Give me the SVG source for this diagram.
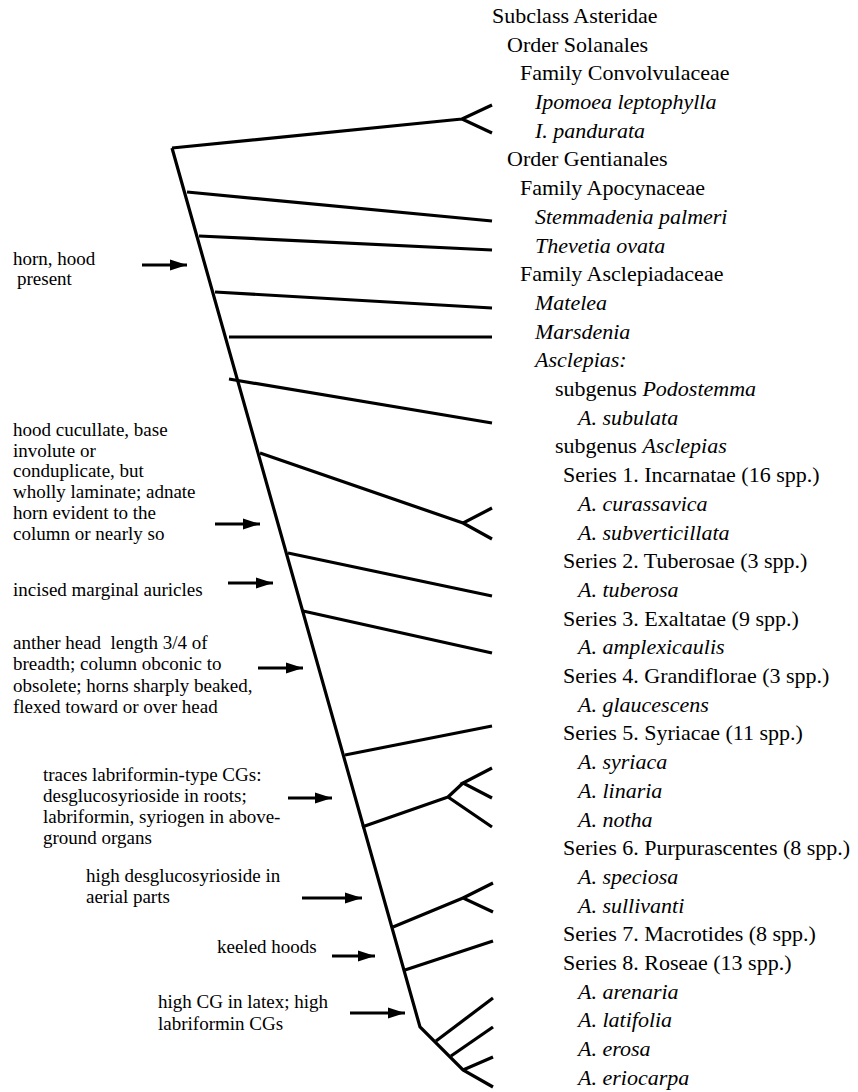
<svg xmlns="http://www.w3.org/2000/svg" width="858" height="1092" viewBox="0 0 858 1092">
<style>
.t{font-family:'Liberation Serif','Tinos','DejaVu Serif',serif;font-size:22px;fill:#000}
.n{font-family:'Liberation Serif','Tinos','DejaVu Serif',serif;font-size:19px;fill:#000}
.i{font-style:italic}
.ln{fill:none;stroke:#000;stroke-width:3.2;stroke-linejoin:miter;stroke-linecap:butt}
.ar{fill:none;stroke:#000;stroke-width:3}
</style>
<defs>
<marker id="ah" markerUnits="userSpaceOnUse" markerWidth="18" markerHeight="12" refX="17" refY="6" orient="auto">
<path d="M0,0.5 L17,6 L0,11.5 z" fill="#000"/>
</marker>
</defs>
<rect width="858" height="1092" fill="#fff"/>
<g id="connectors">
<path class="ln" d="M172,148 L420,1027 L463,1070 L493,1087"/>
<path class="ln" d="M172,148 L462,119 M492,105 L462,119 L492,133"/>
<path class="ln" d="M187,192 L492,221"/>
<path class="ln" d="M199,236 L492,250"/>
<path class="ln" d="M215,292 L492,308"/>
<path class="ln" d="M229,337 L492,337"/>
<path class="ln" d="M229,379 L492,423"/>
<path class="ln" d="M260,453 L463,523 M492,508 L463,523 L492,539"/>
<path class="ln" d="M288,553 L492,596"/>
<path class="ln" d="M303,611 L492,653"/>
<path class="ln" d="M345,755 L492,726"/>
<path class="ln" d="M362,827 L448,797 L492,827 M448,797 L463,783 M492,768 L463,783 L492,798"/>
<path class="ln" d="M393,927 L463,898 M493,883 L463,898 L493,912"/>
<path class="ln" d="M405,970 L493,941"/>
<path class="ln" d="M436,1041 L493,998"/>
<path class="ln" d="M451,1056 L493,1027"/>
<path class="ln" d="M463,1070 L493,1057"/>
<line class="ar" x1="142" y1="265" x2="187" y2="265" marker-end="url(#ah)"/>
<line class="ar" x1="215" y1="524" x2="260" y2="524" marker-end="url(#ah)"/>
<line class="ar" x1="228" y1="583" x2="273" y2="583" marker-end="url(#ah)"/>
<line class="ar" x1="258" y1="668" x2="303" y2="668" marker-end="url(#ah)"/>
<line class="ar" x1="288" y1="798" x2="332" y2="798" marker-end="url(#ah)"/>
<line class="ar" x1="302" y1="898" x2="362" y2="898" marker-end="url(#ah)"/>
<line class="ar" x1="332" y1="956" x2="375" y2="956" marker-end="url(#ah)"/>
<line class="ar" x1="350" y1="1013" x2="405" y2="1013" marker-end="url(#ah)"/>
</g>
<g id="taxa">
<text class="t" x="492" y="23">Subclass Asteridae</text>
<text class="t" x="507" y="52">Order Solanales</text>
<text class="t" x="520" y="80">Family Convolvulaceae</text>
<text class="t i" x="535" y="109">Ipomoea leptophylla</text>
<text class="t i" x="535" y="138">I. pandurata</text>
<text class="t" x="507" y="166">Order Gentianales</text>
<text class="t" x="520" y="195">Family Apocynaceae</text>
<text class="t i" x="535" y="224">Stemmadenia palmeri</text>
<text class="t i" x="535" y="253">Thevetia ovata</text>
<text class="t" x="520" y="281">Family Asclepiadaceae</text>
<text class="t i" x="535" y="310">Matelea</text>
<text class="t i" x="535" y="339">Marsdenia</text>
<text class="t i" x="535" y="367">Asclepias:</text>
<text class="t" x="555" y="396">subgenus <tspan class="i">Podostemma</tspan></text>
<text class="t i" x="578" y="425">A. subulata</text>
<text class="t" x="555" y="453">subgenus <tspan class="i">Asclepias</tspan></text>
<text class="t" x="563" y="482">Series 1. Incarnatae (16 spp.)</text>
<text class="t i" x="578" y="511">A. curassavica</text>
<text class="t i" x="578" y="540">A. subverticillata</text>
<text class="t" x="563" y="568">Series 2. Tuberosae (3 spp.)</text>
<text class="t i" x="578" y="597">A. tuberosa</text>
<text class="t" x="563" y="626">Series 3. Exaltatae (9 spp.)</text>
<text class="t i" x="578" y="654">A. amplexicaulis</text>
<text class="t" x="563" y="683">Series 4. Grandiflorae (3 spp.)</text>
<text class="t i" x="578" y="712">A. glaucescens</text>
<text class="t" x="563" y="740">Series 5. Syriacae (11 spp.)</text>
<text class="t i" x="578" y="769">A. syriaca</text>
<text class="t i" x="578" y="798">A. linaria</text>
<text class="t i" x="578" y="827">A. notha</text>
<text class="t" x="563" y="855">Series 6. Purpurascentes (8 spp.)</text>
<text class="t i" x="578" y="884">A. speciosa</text>
<text class="t i" x="578" y="913">A. sullivanti</text>
<text class="t" x="563" y="941">Series 7. Macrotides (8 spp.)</text>
<text class="t" x="563" y="970">Series 8. Roseae (13 spp.)</text>
<text class="t i" x="578" y="999">A. arenaria</text>
<text class="t i" x="578" y="1027">A. latifolia</text>
<text class="t i" x="578" y="1056">A. erosa</text>
<text class="t i" x="578" y="1085">A. eriocarpa</text>
</g>
<g id="note-horn">
<text class="n" x="13" y="265">horn, hood</text>
<text class="n" x="17" y="285">present</text>
</g>
<g id="note-hood">
<text class="n" x="13" y="436">hood cucullate, base</text>
<text class="n" x="13" y="457">involute or</text>
<text class="n" x="13" y="477">conduplicate, but</text>
<text class="n" x="13" y="498">wholly laminate; adnate</text>
<text class="n" x="13" y="519">horn evident to the</text>
<text class="n" x="13" y="540">column or nearly so</text>
</g>
<g id="note-auricles">
<text class="n" x="13" y="596">incised marginal auricles</text>
</g>
<g id="note-anther">
<text class="n" x="13" y="649" xml:space="preserve">anther head  length 3/4 of</text>
<text class="n" x="13" y="670">breadth; column obconic to</text>
<text class="n" x="13" y="692">obsolete; horns sharply beaked,</text>
<text class="n" x="13" y="713">flexed toward or over head</text>
</g>
<g id="note-traces">
<text class="n" x="43" y="781">traces labriformin-type CGs:</text>
<text class="n" x="43" y="802">desglucosyrioside in roots;</text>
<text class="n" x="43" y="823">labriformin, syriogen in above-</text>
<text class="n" x="43" y="844">ground organs</text>
</g>
<g id="note-desglu">
<text class="n" x="86" y="882">high desglucosyrioside in</text>
<text class="n" x="86" y="903">aerial parts</text>
</g>
<g id="note-keeled">
<text class="n" x="217" y="953">keeled hoods</text>
</g>
<g id="note-latex">
<text class="n" x="158" y="1008">high CG in latex; high</text>
<text class="n" x="158" y="1030">labriformin CGs</text>
</g>
</svg>
